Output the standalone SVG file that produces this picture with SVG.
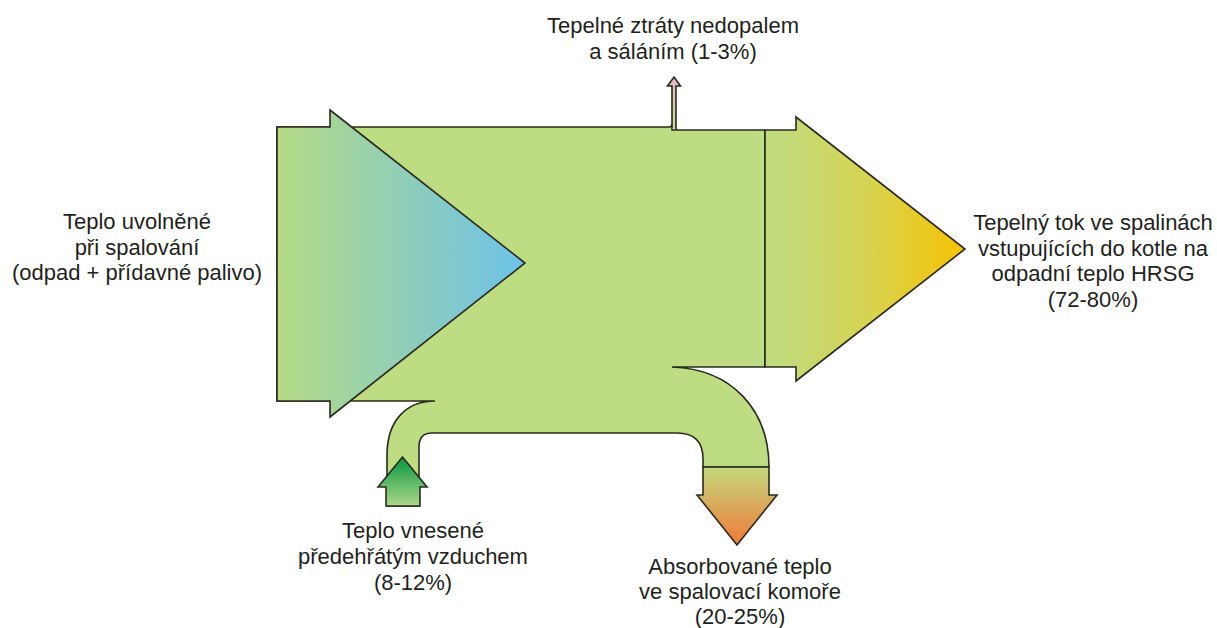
<svg xmlns="http://www.w3.org/2000/svg" width="1217" height="628" viewBox="0 0 1217 628">
<style>
.lbl{font-family:"Liberation Sans",Arial,sans-serif;font-size:22px;fill:#231f20;text-anchor:middle}
.shp{stroke:#2a2a20;stroke-width:1.6;stroke-linejoin:miter}
</style>
<defs>
<linearGradient id="gIn" x1="277" y1="0" x2="525" y2="0" gradientUnits="userSpaceOnUse">
<stop offset="0" stop-color="#b5da84"/><stop offset="1" stop-color="#6cc2ea"/>
</linearGradient>
<linearGradient id="gOut" x1="765" y1="0" x2="965" y2="0" gradientUnits="userSpaceOnUse">
<stop offset="0" stop-color="#bedc82"/><stop offset="0.5" stop-color="#d6d454"/><stop offset="1" stop-color="#f6c200"/>
</linearGradient>
<linearGradient id="gAir" x1="0" y1="457" x2="0" y2="506" gradientUnits="userSpaceOnUse">
<stop offset="0" stop-color="#05963f"/><stop offset="1" stop-color="#aed889"/>
</linearGradient>
<linearGradient id="gAbs" x1="0" y1="467" x2="0" y2="545" gradientUnits="userSpaceOnUse">
<stop offset="0" stop-color="#c3d87c"/><stop offset="1" stop-color="#ef7a38"/>
</linearGradient>
<linearGradient id="gLoss" x1="0" y1="127" x2="0" y2="77" gradientUnits="userSpaceOnUse">
<stop offset="0" stop-color="#c8dc98"/><stop offset="1" stop-color="#e7b6c8"/>
</linearGradient>
</defs>

<g id="body">
<path class="shp" fill="#bedc82" d="M277,127 L669,127 Q672,127 672,124 L672,130 L676,130 L765,130 L765,367 L672,367 C732,369 769,410 769,467 L703,467 L703,459 Q703,433 677,433 L432,433 Q419,433 419,447 L419,506 L387,506 L387,455 C387,422 405,401 435,401 L277,401 Z"/>
</g>

<g id="loss-arrow">
<path class="shp" fill="url(#gLoss)" stroke-width="1.4" d="M672,128 L672,86 L667.5,86 L674,77 L680.5,86 L676,86 L676,130"/>
</g>

<g id="input-arrow">
<path class="shp" fill="url(#gIn)" d="M277,127 L330,127 L330,110 L525,263 L330,417 L330,401 L277,401 Z"/>
</g>

<g id="output-arrow">
<path class="shp" fill="url(#gOut)" d="M765,130 L796,130 L796,117 L965,249 L796,381 L796,367 L765,367 Z"/>
</g>

<g id="air-arrow">
<path class="shp" fill="url(#gAir)" d="M386,506 L386,487 L378,487 L402.5,457 L427,487 L420,487 L420,506 Z"/>
</g>

<g id="absorbed-arrow">
<path class="shp" fill="url(#gAbs)" d="M703,467 L769,467 L769,495 L777,495 L737,545 L697,495 L703,495 Z"/>
</g>

<g id="labels">
<text class="lbl" x="673" y="33">Tepelné ztráty nedopalem</text>
<text class="lbl" x="673" y="59">a sáláním (1-3%)</text>
<text class="lbl" x="137" y="229">Teplo uvolněné</text>
<text class="lbl" x="137" y="254.5">při spalování</text>
<text class="lbl" x="137" y="280">(odpad + přídavné palivo)</text>
<text class="lbl" x="1093" y="230">Tepelný tok ve spalinách</text>
<text class="lbl" x="1093" y="255.5">vstupujících do kotle na</text>
<text class="lbl" x="1093" y="281">odpadní teplo HRSG</text>
<text class="lbl" x="1093" y="306.5">(72-80%)</text>
<text class="lbl" x="413" y="538">Teplo vnesené</text>
<text class="lbl" x="413" y="564">předehřátým vzduchem</text>
<text class="lbl" x="413" y="590">(8-12%)</text>
<text class="lbl" x="740" y="574">Absorbované teplo</text>
<text class="lbl" x="740" y="599">ve spalovací komoře</text>
<text class="lbl" x="740" y="624">(20-25%)</text>
</g>
</svg>
